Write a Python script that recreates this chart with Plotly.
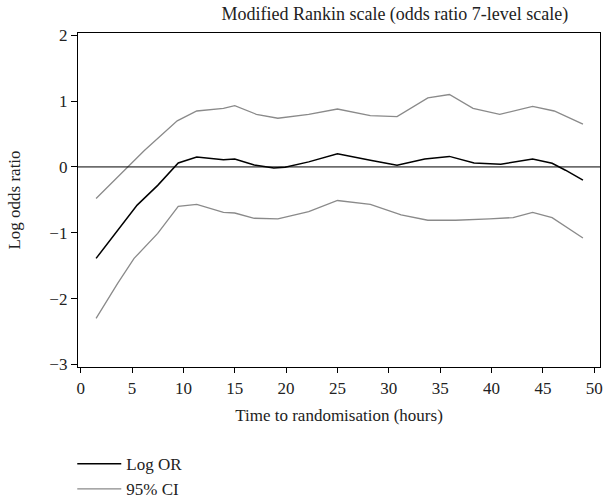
import plotly.graph_objects as go

# Data
or_hours = [1.5, 3.6, 5.5, 7.5, 8.6, 9.5, 11.3, 13.9, 15.0, 16.9, 18.8, 19.9, 22.2, 25.0,
            28.2, 30.8, 33.5, 35.9, 38.3, 40.9, 44.0, 45.9, 47.2, 48.9]
log_or = [-1.39, -0.96, -0.58, -0.28, -0.10, 0.06, 0.15, 0.11, 0.12, 0.03, -0.015, -0.005,
          0.077, 0.20, 0.10, 0.025, 0.12, 0.16, 0.06, 0.04, 0.12, 0.056, -0.05, -0.20]

upper_hours = [1.5, 4.4, 6.2, 9.4, 11.3, 13.9, 15.0, 17.1, 19.2, 22.2, 25.0, 28.2, 30.8,
               33.8, 35.9, 38.2, 40.8, 44.0, 46.1, 48.9]
upper_ci = [-0.48, -0.03, 0.25, 0.70, 0.85, 0.89, 0.93, 0.80, 0.74, 0.80, 0.88, 0.78, 0.765,
            1.05, 1.10, 0.89, 0.80, 0.92, 0.85, 0.65]

lower_hours = [1.5, 3.6, 5.2, 7.5, 9.5, 11.3, 13.9, 15.0, 16.9, 19.2, 22.2, 25.0, 28.2, 31.2,
               33.8, 36.5, 39.8, 42.1, 44.0, 45.9, 48.9]
lower_ci = [-2.30, -1.77, -1.39, -1.01, -0.60, -0.57, -0.69, -0.70, -0.78, -0.79, -0.68,
            -0.51, -0.57, -0.73, -0.81, -0.81, -0.79, -0.77, -0.69, -0.77, -1.08]

x_ticks = [0, 5, 10, 15, 20, 25, 30, 35, 40, 45, 50]
y_ticks = [-3, -2, -1, 0, 1, 2]

title_text = "Modified Rankin scale (odds ratio 7-level scale)"
x_title = "Time to randomisation (hours)"
y_title = "Log odds ratio"

FONT = "Liberation Serif"
GRAY = "#8a8a8a"
TXT = "#222222"

fig = go.Figure()
fig.add_trace(go.Scatter(x=or_hours, y=log_or, mode="lines", name="Log OR",
                         line=dict(color="black", width=1.5)))
fig.add_trace(go.Scatter(x=upper_hours, y=upper_ci, mode="lines", name="95% CI",
                         line=dict(color=GRAY, width=1.3), legendgroup="ci"))
fig.add_trace(go.Scatter(x=lower_hours, y=lower_ci, mode="lines", name="95% CI",
                         line=dict(color=GRAY, width=1.3), legendgroup="ci", showlegend=False))

fig.add_hline(y=0, line=dict(color="black", width=1))

fig.update_layout(
    width=606, height=500,
    margin=dict(l=78, r=6, t=33, b=133, autoexpand=False),
    paper_bgcolor="white", plot_bgcolor="white",
    font=dict(family=FONT, size=17, color=TXT),
    title=dict(text=title_text, xref="paper", x=0.607, xanchor="center",
               yref="container", y=0.985, yanchor="top",
               font=dict(family=FONT, size=18, color=TXT)),
    showlegend=True,
    legend=dict(x=-0.011, xanchor="left", y=-0.237, yanchor="top",
                font=dict(family=FONT, size=17, color=TXT),
                tracegroupgap=0, itemwidth=44, bgcolor="rgba(0,0,0,0)"),
)
fig.update_xaxes(range=[-0.26, 50.56], tickvals=x_ticks, ticks="outside", ticklen=5,
                 tickcolor="black", showline=True, linecolor="black", linewidth=1.3,
                 mirror=True, showgrid=False, zeroline=False, automargin=False,
                 title=dict(text=x_title, standoff=12, font=dict(size=17)))
fig.update_yaxes(range=[-3.04, 2.035], tickvals=y_ticks, ticks="outside", ticklen=6,
                 tickcolor="black", showline=True, linecolor="black", linewidth=1.3,
                 mirror=True, showgrid=False, zeroline=False, automargin=False,
                 title=dict(text=y_title, standoff=24, font=dict(size=17)))

# remove the browser's default 8px body margin so the figure sits at the page origin
fig.write_html("out.html", config={"displayModeBar": False},
               post_script="document.body.style.margin='0';")
